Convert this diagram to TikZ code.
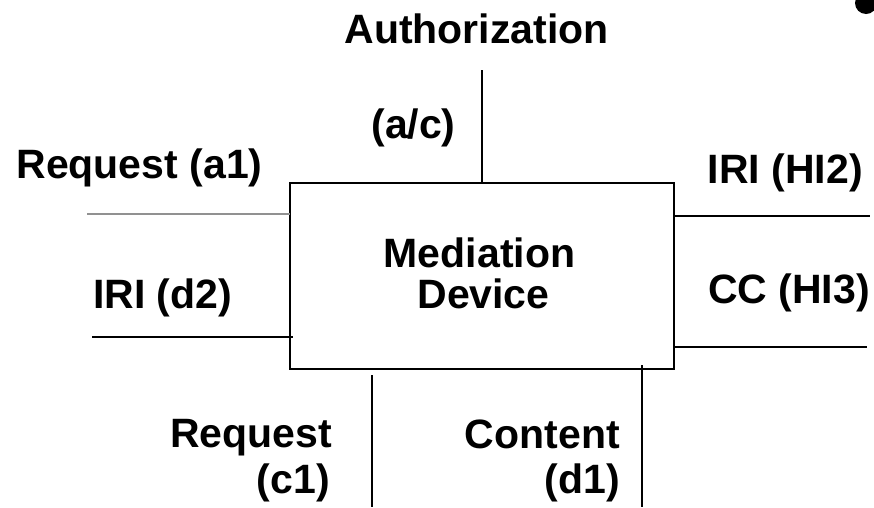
\documentclass[tikz,border=0pt]{standalone}
\usepackage{fontspec}
\setmainfont{Liberation Sans}
\begin{document}
\begin{tikzpicture}[x=1pt,y=-1pt,
  lbl/.style={inner sep=0pt,font=\fontsize{41}{46}\selectfont\bfseries},
  wire/.style={line width=2pt,black},
  greywire/.style={line width=2pt,color=black!43}]
\useasboundingbox (0,0) rectangle (874,507);

% bullet mark in the corner
\fill[black] (866,3) circle[radius=11];

% central block
\node[draw,line width=2pt,minimum width=384pt,minimum height=186pt,inner sep=0pt] (md) at (482,276) {};
\node[lbl,anchor=base] (md1) at (479.5,267) {Mediation};
\node[lbl,anchor=base] (md2) at (483.5,308) {Device};

% labels
\node[lbl,anchor=base] (auth) at (476.5,43) {Authorization};
\node[lbl,anchor=base] (ac) at (413.5,138) {(a/c)};
\node[lbl,anchor=base] (a1) at (139.5,178) {Request (a1)};
\node[lbl,anchor=base west] (d2) at (93,308) {IRI (d2)};
\node[lbl,anchor=base east] (hi2) at (863,183) {IRI (HI2)};
\node[lbl,anchor=base east] (hi3) at (870,303) {CC (HI3)};
\node[lbl,anchor=base east] (c1a) at (332,447) {Request};
\node[lbl,anchor=base east] (c1b) at (330,493) {(c1)};
\node[lbl,anchor=base east] (d1a) at (620,448) {Content};
\node[lbl,anchor=base east] (d1b) at (620,493) {(d1)};

% free ends of the interface lines
\coordinate (topEnd) at (482,70);
\coordinate (a1End) at (87,214);
\coordinate (a1Box) at (290,214);
\coordinate (d2End) at (92,337);
\coordinate (d2Box) at (293,337);
\coordinate (hi2Box) at (674,216);
\coordinate (hi2End) at (870,216);
\coordinate (hi3Box) at (675,347);
\coordinate (hi3End) at (867,347);
\coordinate (c1Top) at (372,375);
\coordinate (c1End) at (372,507);
\coordinate (d1Top) at (642,365);
\coordinate (d1End) at (642,507);

% interface lines
\draw[wire] (topEnd) -- (md.north);
\draw[greywire] (a1End) -- (a1Box);
\draw[wire] (d2End) -- (d2Box);
\draw[wire] (hi2Box) -- (hi2End);
\draw[wire] (hi3Box) -- (hi3End);
\draw[wire] (c1Top) -- (c1End);
\draw[wire] (d1Top) -- (d1End);
\end{tikzpicture}
\end{document}
